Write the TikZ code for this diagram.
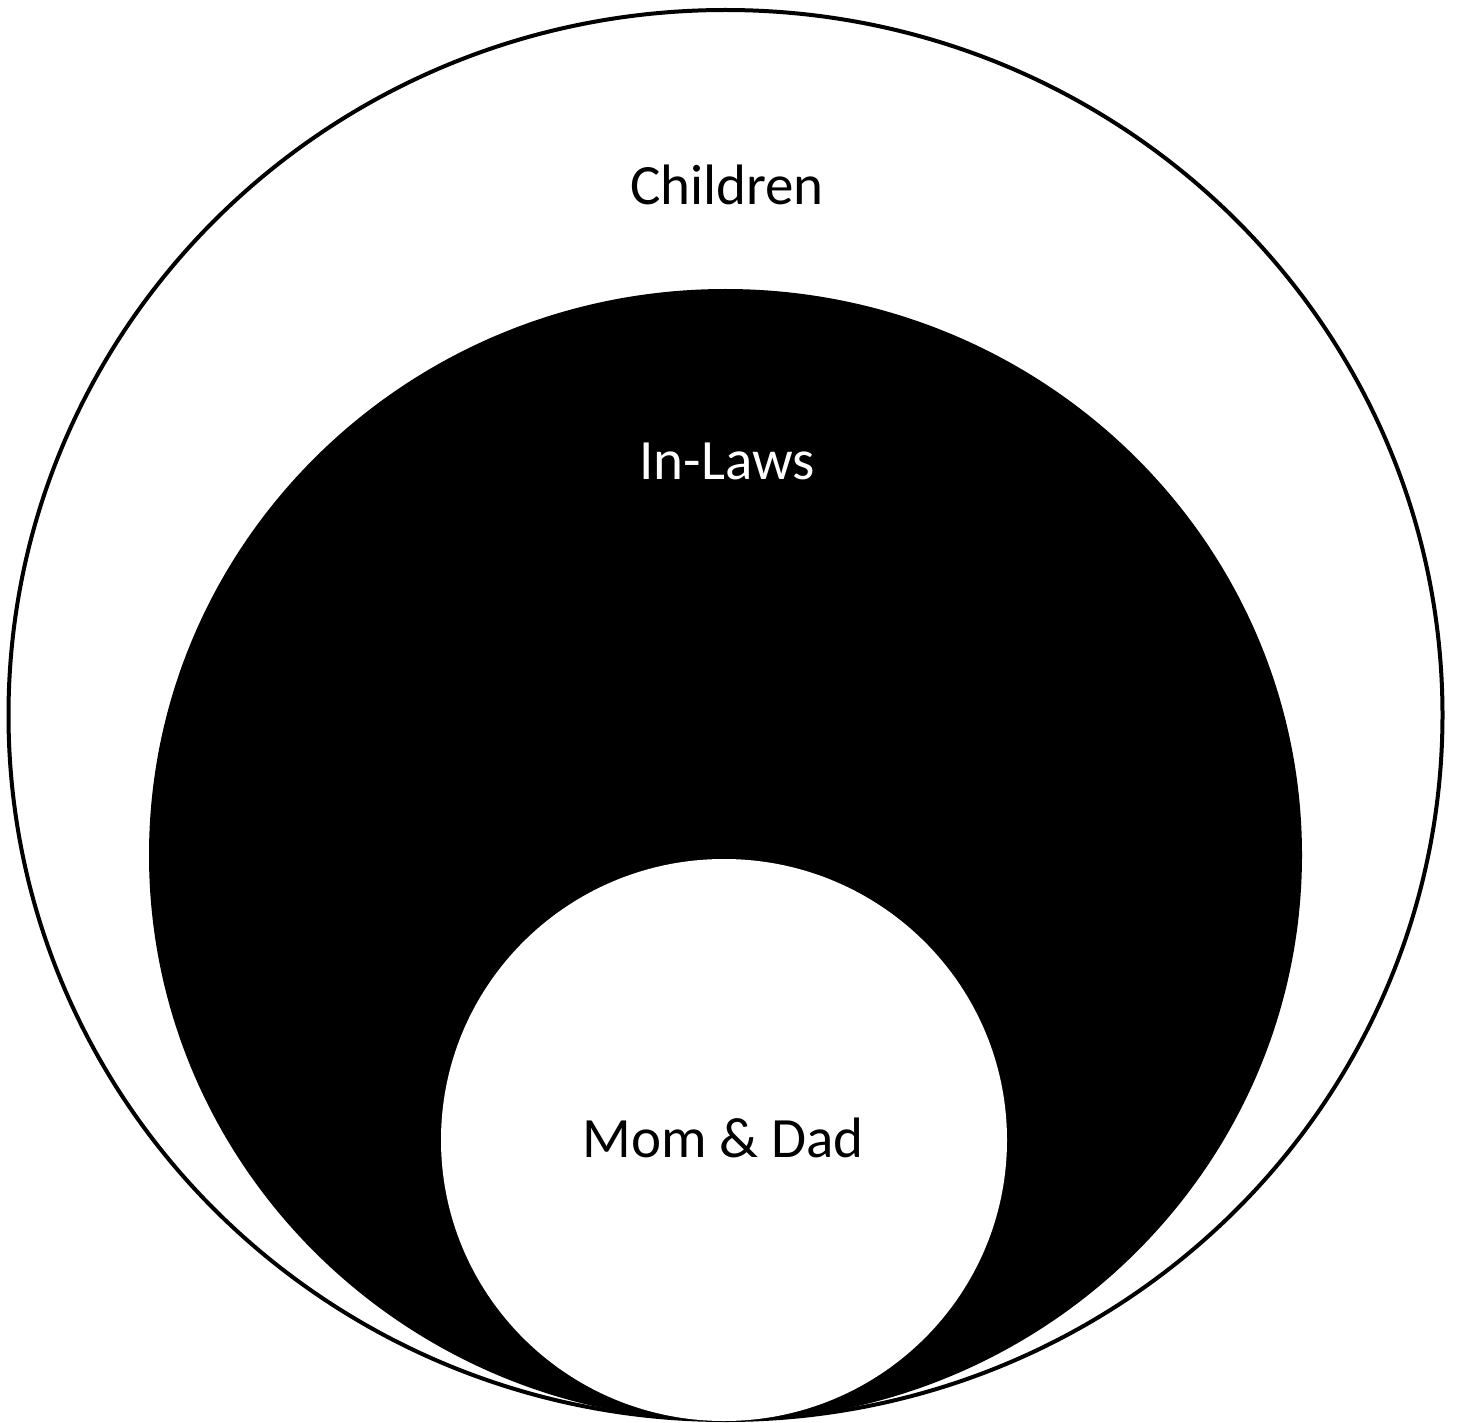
\documentclass[tikz,border=0pt]{standalone}
\usepackage{fontspec}
\setmainfont{Carlito}
\begin{document}
\begin{tikzpicture}[x=1pt,y=-1pt,
  lbl/.style={anchor=base,inner sep=0pt,font=\fontsize{57}{60}\selectfont}]
\useasboundingbox (0,0) rectangle (1460,1423);
\fill[white] (0,0) rectangle (1460,1423);
\draw[line width=4pt,fill=white] (725.5,715) ellipse [x radius=717, y radius=705];
\fill[black] (725.5,855) ellipse [x radius=576.5, y radius=566];
\fill[white] (724,1140) ellipse [x radius=283, y radius=281];
\node[lbl] (children) at (727,205) {Children};
\node[lbl,text=white] (inlaws) at (727,479) {In-Laws};
\node[lbl] (momdad) at (723,1157) {Mom \& Dad};
\end{tikzpicture}
\end{document}
